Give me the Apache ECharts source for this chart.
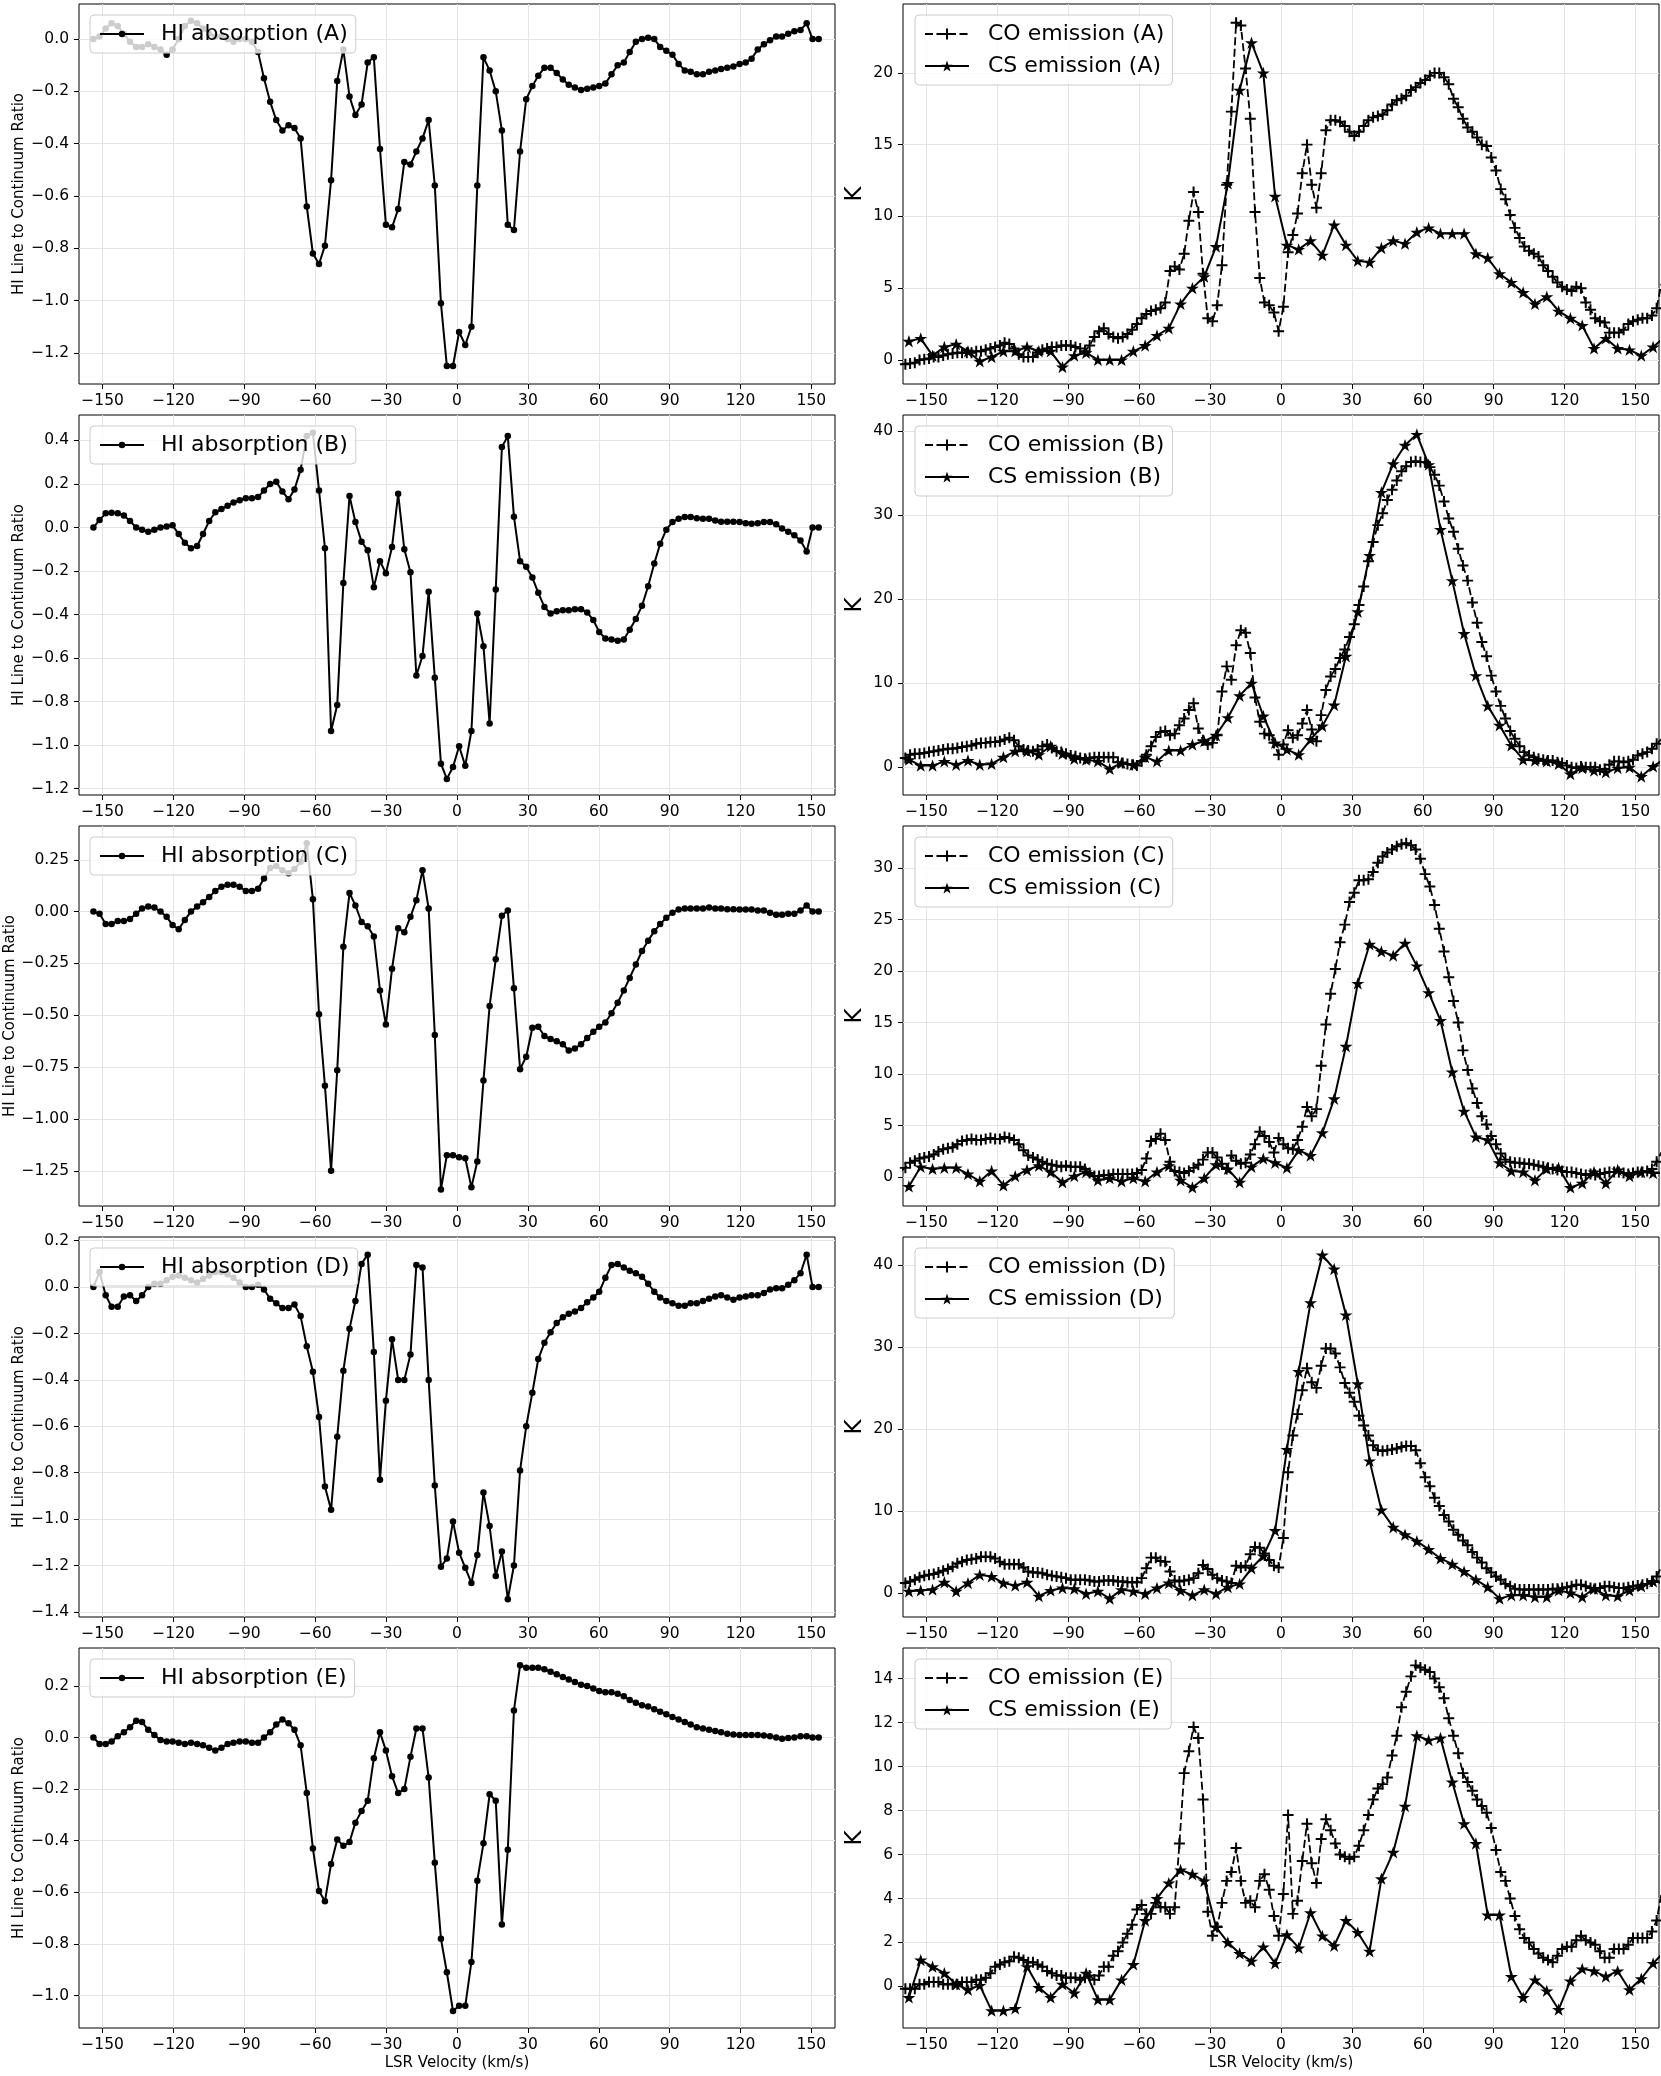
<!DOCTYPE html>
<html>
<head>
<meta charset="utf-8">
<script src="https://cdn.jsdelivr.net/npm/echarts@6/dist/echarts.min.js"></script>
<style>
  html, body { margin: 0; padding: 0; background: #fff; }
  #chart { width: 1661px; height: 2076px; }
</style>
</head>
<body>
<div id="chart"></div>
<script>
// velocity channels (km/s)
const hiVel = [
  -153.9,-151.3,-148.7,-146.2,-143.6,-141.0,-138.4,-135.8,-133.3,-130.7,
  -128.1,-125.5,-122.9,-120.4,-117.8,-115.2,-112.6,-110.0,-107.5,-104.9,
  -102.3,-99.7,-97.1,-94.6,-92.0,-89.4,-86.8,-84.2,-81.7,-79.1,
  -76.5,-73.9,-71.3,-68.8,-66.2,-63.6,-61.0,-58.4,-55.9,-53.3,
  -50.7,-48.1,-45.5,-43.0,-40.4,-37.8,-35.2,-32.6,-30.1,-27.5,
  -24.9,-22.3,-19.7,-17.2,-14.6,-12.0,-9.4,-6.8,-4.3,-1.7,
  0.9,3.5,6.1,8.6,11.2,13.8,16.4,19.0,21.5,24.1,
  26.7,29.3,31.9,34.4,37.0,39.6,42.2,44.8,47.3,49.9,
  52.5,55.1,57.7,60.2,62.8,65.4,68.0,70.6,73.1,75.7,
  78.3,80.9,83.5,86.0,88.6,91.2,93.8,96.4,98.9,101.5,
  104.1,106.7,109.3,111.8,114.4,117.0,119.6,122.2,124.7,127.3,
  129.9,132.5,135.1,137.6,140.2,142.8,145.4,148.0,150.5,153.1
];
const coVel = [
  -161,-159,-157,-155,-153,-151,-149,-147,-145,-143,
  -141,-139,-137,-135,-133,-131,-129,-127,-125,-123,
  -121,-119,-117,-115,-113,-111,-109,-107,-105,-103,
  -101,-99,-97,-95,-93,-91,-89,-87,-85,-83,
  -81,-79,-77,-75,-73,-71,-69,-67,-65,-63,
  -61,-59,-57,-55,-53,-51,-49,-47,-45,-43,
  -41,-39,-37,-35,-33,-31,-29,-27,-25,-23,
  -21,-19,-17,-15,-13,-11,-9,-7,-5,-3,
  -1,1,3,5,7,9,11,13,15,17,
  19,21,23,25,27,29,31,33,35,37,
  39,41,43,45,47,49,51,53,55,57,
  59,61,63,65,67,69,71,73,75,77,
  79,81,83,85,87,89,91,93,95,97,
  99,101,103,105,107,109,111,113,115,117,
  119,121,123,125,127,129,131,133,135,137,
  139,141,143,145,147,149,151,153,155,157,
  159,161
];
const csVel = [
  -157.5,-152.5,-147.5,-142.5,-137.5,-132.5,-127.5,-122.5,-117.5,-112.5,
  -107.5,-102.5,-97.5,-92.5,-87.5,-82.5,-77.5,-72.5,-67.5,-62.5,
  -57.5,-52.5,-47.5,-42.5,-37.5,-32.5,-27.5,-22.5,-17.5,-12.5,
  -7.5,-2.5,2.5,7.5,12.5,17.5,22.5,27.5,32.5,37.5,
  42.5,47.5,52.5,57.5,62.5,67.5,72.5,77.5,82.5,87.5,
  92.5,97.5,102.5,107.5,112.5,117.5,122.5,127.5,132.5,137.5,
  142.5,147.5,152.5,157.5,162.5
];

// HI line to continuum ratio
const hiA = [
  0.0,0.01,0.04,0.06,0.05,0.02,-0.01,-0.03,-0.03,-0.02,
  -0.03,-0.04,-0.06,-0.04,0.0,0.05,0.07,0.06,0.04,0.02,
  0.01,0.01,0.0,-0.01,0.0,0.0,-0.01,-0.05,-0.15,-0.24,
  -0.31,-0.35,-0.33,-0.34,-0.38,-0.64,-0.82,-0.86,-0.79,-0.54,
  -0.16,-0.04,-0.22,-0.29,-0.25,-0.09,-0.07,-0.42,-0.71,-0.72,
  -0.65,-0.47,-0.48,-0.43,-0.38,-0.31,-0.56,-1.01,-1.25,-1.25,
  -1.12,-1.17,-1.10,-0.56,-0.07,-0.12,-0.20,-0.35,-0.71,-0.73,
  -0.43,-0.23,-0.18,-0.14,-0.11,-0.11,-0.13,-0.155,-0.175,-0.185,
  -0.195,-0.19,-0.185,-0.18,-0.17,-0.135,-0.10,-0.09,-0.05,-0.01,
  0.0,0.005,0.0,-0.03,-0.045,-0.06,-0.095,-0.12,-0.125,-0.135,
  -0.135,-0.125,-0.12,-0.115,-0.11,-0.105,-0.095,-0.09,-0.075,-0.04,
  -0.02,-0.005,0.01,0.01,0.02,0.03,0.035,0.06,0.0,0.0
];
const hiB = [
  0.0,0.035,0.065,0.068,0.065,0.055,0.03,0.0,-0.01,-0.02,
  -0.01,0.0,0.005,0.01,-0.03,-0.07,-0.095,-0.085,-0.03,0.03,
  0.07,0.085,0.1,0.115,0.125,0.135,0.135,0.14,0.17,0.20,
  0.21,0.165,0.13,0.175,0.265,0.42,0.435,0.17,-0.095,-0.935,
  -0.815,-0.255,0.145,0.025,-0.065,-0.105,-0.275,-0.155,-0.21,-0.09,
  0.155,-0.10,-0.205,-0.68,-0.59,-0.295,-0.69,-1.085,-1.155,-1.10,
  -1.005,-1.095,-0.935,-0.395,-0.545,-0.90,-0.285,0.37,0.42,0.05,
  -0.155,-0.18,-0.23,-0.30,-0.365,-0.395,-0.385,-0.38,-0.38,-0.375,
  -0.375,-0.39,-0.425,-0.48,-0.51,-0.515,-0.52,-0.515,-0.47,-0.42,
  -0.36,-0.27,-0.165,-0.075,-0.01,0.025,0.04,0.048,0.048,0.043,
  0.04,0.04,0.032,0.027,0.027,0.027,0.025,0.02,0.017,0.02,
  0.025,0.025,0.015,-0.005,-0.02,-0.035,-0.06,-0.11,0.0,0.0
];
const hiC = [
  0.0,-0.01,-0.06,-0.06,-0.045,-0.045,-0.035,-0.01,0.015,0.025,
  0.02,0.0,-0.025,-0.065,-0.085,-0.04,0.0,0.025,0.045,0.07,
  0.10,0.12,0.13,0.13,0.12,0.10,0.10,0.11,0.16,0.21,
  0.22,0.20,0.185,0.205,0.24,0.33,0.06,-0.495,-0.84,-1.25,
  -0.765,-0.17,0.09,0.03,-0.05,-0.07,-0.12,-0.38,-0.545,-0.275,
  -0.08,-0.10,-0.025,0.055,0.20,0.015,-0.595,-1.34,-1.175,-1.175,
  -1.185,-1.19,-1.33,-1.205,-0.815,-0.455,-0.23,-0.02,0.005,-0.37,
  -0.76,-0.70,-0.56,-0.555,-0.60,-0.615,-0.625,-0.64,-0.67,-0.66,
  -0.64,-0.61,-0.58,-0.555,-0.535,-0.49,-0.44,-0.38,-0.32,-0.255,
  -0.19,-0.14,-0.095,-0.06,-0.03,-0.005,0.01,0.015,0.015,0.015,
  0.015,0.02,0.015,0.015,0.012,0.012,0.01,0.01,0.01,0.005,
  0.005,-0.005,-0.015,-0.015,-0.01,-0.01,0.005,0.03,0.0,0.0
];
const hiD = [
  0.0,0.065,-0.035,-0.085,-0.085,-0.04,-0.035,-0.06,-0.035,0.0,
  0.015,0.015,0.03,0.045,0.05,0.04,0.03,0.02,0.035,0.05,
  0.065,0.065,0.055,0.04,0.02,0.0,0.0,0.01,-0.01,-0.05,
  -0.07,-0.09,-0.09,-0.075,-0.125,-0.255,-0.365,-0.56,-0.86,-0.96,
  -0.645,-0.36,-0.18,-0.06,0.10,0.14,-0.28,-0.83,-0.49,-0.225,
  -0.40,-0.40,-0.29,0.095,0.085,-0.40,-0.855,-1.205,-1.17,-1.01,
  -1.145,-1.21,-1.275,-1.155,-0.885,-1.03,-1.245,-1.14,-1.345,-1.20,
  -0.79,-0.60,-0.455,-0.31,-0.24,-0.195,-0.155,-0.13,-0.115,-0.105,
  -0.09,-0.065,-0.045,-0.02,0.04,0.095,0.10,0.085,0.07,0.06,
  0.045,0.015,-0.02,-0.045,-0.06,-0.07,-0.08,-0.08,-0.07,-0.07,
  -0.06,-0.05,-0.04,-0.035,-0.045,-0.055,-0.045,-0.04,-0.035,-0.035,
  -0.025,-0.01,-0.005,-0.005,0.01,0.03,0.06,0.14,0.0,0.0
];
const hiE = [
  0.0,-0.025,-0.025,-0.015,0.005,0.02,0.04,0.065,0.06,0.03,
  0.01,-0.01,-0.015,-0.015,-0.02,-0.025,-0.02,-0.025,-0.03,-0.04,
  -0.05,-0.04,-0.025,-0.02,-0.015,-0.015,-0.02,-0.02,0.0,0.02,
  0.05,0.07,0.055,0.03,-0.03,-0.215,-0.43,-0.595,-0.635,-0.49,
  -0.395,-0.42,-0.405,-0.33,-0.285,-0.245,-0.08,0.02,-0.05,-0.15,
  -0.215,-0.20,-0.075,0.035,0.035,-0.155,-0.485,-0.78,-0.91,-1.06,
  -1.04,-1.04,-0.87,-0.555,-0.41,-0.22,-0.245,-0.725,-0.435,0.105,
  0.28,0.27,0.27,0.27,0.265,0.255,0.245,0.235,0.225,0.215,
  0.205,0.20,0.19,0.18,0.175,0.175,0.17,0.16,0.145,0.135,
  0.125,0.12,0.11,0.10,0.09,0.08,0.07,0.06,0.05,0.04,
  0.035,0.03,0.025,0.02,0.015,0.012,0.01,0.01,0.01,0.01,
  0.008,0.005,0.0,-0.005,-0.002,0.0,0.005,0.005,0.0,0.0
];

// CO emission (K)
const coA = [
  -0.3,-0.3,-0.25,-0.2,0.0,0.05,0.1,0.2,0.2,0.3,
  0.4,0.45,0.5,0.5,0.5,0.5,0.6,0.6,0.7,0.8,
  0.9,1.0,1.2,1.1,0.8,0.4,0.2,0.2,0.2,0.5,
  0.7,0.8,0.9,0.9,1.0,1.0,1.0,0.9,0.8,0.6,
  1.0,1.6,2.0,2.2,1.8,1.6,1.5,1.6,1.8,2.1,
  2.5,2.9,3.2,3.4,3.5,3.6,4.0,6.2,6.5,6.3,
  7.4,9.7,11.7,10.3,6.0,2.9,2.7,3.8,6.6,12.2,
  17.3,23.5,23.3,20.3,16.8,10.3,5.7,4.0,3.8,3.3,
  2.0,3.7,7.5,8.7,10.2,13.0,15.0,12.2,10.6,13.0,
  16.0,16.7,16.7,16.6,16.3,15.9,15.6,15.9,16.3,16.7,
  16.9,17.0,17.1,17.4,17.8,18.1,18.2,18.4,18.8,19.0,
  19.3,19.5,19.8,20.0,20.0,19.7,19.2,18.2,17.6,16.8,
  16.2,15.9,15.5,15.0,14.9,14.1,13.2,11.9,11.2,10.1,
  9.2,8.5,7.9,7.6,7.4,7.2,6.6,6.2,5.8,5.4,
  5.1,4.9,4.8,5.1,5.0,4.0,3.5,2.9,2.7,2.6,
  1.9,1.9,1.9,2.1,2.5,2.7,2.8,2.9,2.9,3.1,
  3.6,5.3
];
const coB = [
  1.0,1.1,1.5,1.6,1.6,1.7,1.8,1.9,2.0,2.1,
  2.2,2.2,2.3,2.4,2.5,2.6,2.8,2.9,2.9,3.0,
  3.0,3.1,3.3,3.5,3.2,2.5,2.1,2.0,1.9,2.1,
  2.5,2.7,2.3,1.9,1.8,1.6,1.4,1.3,1.1,1.0,
  1.1,1.2,1.2,1.2,1.2,1.2,0.6,0.5,0.4,0.3,
  0.2,0.7,1.5,2.5,3.6,4.2,4.3,3.8,4.0,5.0,
  5.8,6.8,7.6,4.6,3.2,2.7,2.9,3.8,9.0,12.0,
  10.4,14.5,16.3,16.0,13.6,8.3,5.4,4.0,3.8,2.9,
  1.5,2.7,4.4,3.5,3.8,5.2,6.8,4.5,3.1,6.2,
  9.2,10.8,11.7,13.0,14.0,15.5,17.0,19.3,21.5,24.5,
  26.8,28.8,30.2,31.8,33.0,34.1,35.2,35.8,36.3,36.4,
  36.3,36.3,35.7,34.8,33.5,31.6,29.6,28.0,26.0,24.0,
  22.2,19.6,17.2,14.9,13.2,10.9,9.0,7.3,5.8,4.3,
  3.4,2.5,1.8,1.4,1.2,1.0,0.9,0.8,0.8,0.6,
  0.5,0.2,0.0,-0.1,0.1,0.0,0.0,0.0,-0.3,-0.2,
  0.3,0.7,0.7,0.6,0.7,0.9,1.4,1.6,1.8,2.2,
  2.8,3.3
];
const coC = [
  0.6,0.9,1.4,1.6,1.8,1.9,2.0,2.2,2.5,2.7,
  2.8,2.9,3.2,3.5,3.6,3.7,3.6,3.6,3.7,3.8,
  3.7,3.7,3.9,3.8,3.6,3.2,2.6,2.1,1.9,1.7,
  1.5,1.3,1.2,1.1,1.0,1.1,1.0,1.0,1.0,0.8,
  0.4,0.1,0.1,0.2,0.2,0.3,0.3,0.3,0.3,0.3,
  0.4,0.7,1.8,3.5,3.7,4.2,3.6,1.5,0.6,0.5,
  0.4,0.6,0.9,1.2,1.7,2.4,2.4,1.9,1.3,0.8,
  2.1,1.6,1.3,1.4,2.2,3.2,4.4,4.0,3.4,2.4,
  3.8,3.2,2.8,2.7,3.6,4.9,6.8,5.9,6.6,10.8,
  14.8,17.8,20.2,22.8,24.5,26.7,27.6,28.8,28.8,28.9,
  29.6,30.5,31.1,31.5,31.8,32.1,32.3,32.4,32.2,31.8,
  30.9,29.4,28.2,26.4,24.1,21.9,19.4,17.1,15.0,12.3,
  10.4,8.6,7.2,5.9,5.1,4.0,3.2,2.3,1.7,1.5,
  1.4,1.4,1.3,1.3,1.2,1.1,1.0,0.9,0.8,0.7,
  0.6,0.5,0.5,0.4,0.3,0.2,0.3,0.2,0.3,0.4,
  0.5,0.5,0.5,0.4,0.3,0.4,0.5,0.5,0.6,0.8,
  1.5,2.4
];
const coD = [
  1.1,1.2,1.4,1.6,1.9,2.1,2.2,2.3,2.5,2.7,
  2.9,3.2,3.6,3.8,4.0,4.1,4.2,4.4,4.4,4.4,
  4.2,3.8,3.5,3.5,3.5,3.5,3.1,2.6,2.5,2.5,
  2.4,2.2,2.1,2.0,1.9,1.8,1.6,1.6,1.6,1.6,
  1.5,1.4,1.4,1.5,1.5,1.5,1.4,1.4,1.3,1.3,
  1.3,1.8,3.0,4.3,4.3,3.9,3.8,2.6,1.5,1.4,
  1.5,1.6,1.8,2.4,3.4,2.9,2.2,1.8,1.5,1.4,
  1.2,3.3,3.1,3.3,4.7,5.6,5.5,4.8,4.0,3.3,
  3.1,6.7,14.7,19.2,21.8,24.7,27.4,25.7,25.0,27.7,
  29.8,29.8,29.2,27.5,25.6,24.4,23.3,21.6,20.4,19.2,
  18.0,17.4,17.3,17.4,17.5,17.6,17.8,17.9,17.9,17.4,
  15.8,14.1,13.0,11.6,10.6,9.5,8.7,7.7,7.1,6.4,
  5.8,5.0,4.3,3.7,3.0,2.5,2.0,1.6,1.1,0.8,
  0.5,0.4,0.4,0.4,0.4,0.4,0.4,0.4,0.5,0.5,
  0.6,0.7,0.8,1.0,1.0,0.8,0.6,0.5,0.6,0.8,
  0.8,0.7,0.6,0.6,0.7,0.8,0.9,1.0,1.1,1.4,
  2.0,3.2
];
const coE = [
  -0.1,-0.1,-0.1,-0.1,0.1,0.1,0.2,0.2,0.2,0.1,
  0.1,0.1,0.1,0.2,0.2,0.2,0.3,0.3,0.4,0.6,
  0.9,1.0,1.1,1.15,1.35,1.3,1.2,1.1,1.1,1.0,
  0.9,0.7,0.6,0.5,0.5,0.4,0.4,0.4,0.3,0.4,
  0.5,0.3,0.5,0.9,0.9,1.4,1.6,2.0,2.4,2.8,
  3.5,3.7,3.3,3.3,3.8,3.6,3.6,3.3,3.6,6.5,
  9.7,10.7,11.8,11.3,8.5,3.4,2.3,2.7,3.8,4.8,
  5.2,6.3,4.8,3.8,3.9,3.6,4.8,5.1,4.4,3.2,
  2.3,4.2,7.8,3.3,3.9,5.7,7.4,5.6,4.7,6.7,
  7.6,7.1,6.5,6.0,5.9,5.8,5.9,6.4,7.1,7.8,
  8.5,9.0,9.2,9.5,10.5,11.4,12.7,13.4,14.1,14.6,
  14.5,14.4,14.3,14.0,13.6,13.1,12.2,11.4,10.6,9.7,
  9.3,8.9,8.5,8.2,7.9,7.2,6.2,5.2,4.8,4.0,
  3.2,2.6,2.2,2.0,1.7,1.5,1.3,1.2,1.1,1.4,
  1.7,1.8,1.8,2.1,2.3,2.1,2.0,1.9,1.6,1.3,
  1.3,1.7,1.7,1.7,1.9,2.2,2.2,2.2,2.2,2.5,
  3.0,4.2
];

// CS emission (K)
const csA = [
  1.3,1.5,0.3,0.9,1.1,0.6,-0.1,0.2,0.6,0.6,
  0.9,0.6,0.6,-0.5,0.3,0.5,0.0,0.0,0.0,0.6,
  1.0,1.7,2.2,3.9,5.0,5.8,7.9,12.3,18.8,22.1,
  20.0,11.4,8.0,7.7,8.3,7.3,9.4,8.0,6.9,6.8,
  7.8,8.3,8.1,8.9,9.2,8.8,8.8,8.8,7.4,7.1,
  6.0,5.4,4.7,3.9,4.4,3.4,2.9,2.4,0.8,1.5,
  0.8,0.7,0.3,0.9,1.6
];
const csB = [
  0.9,0.2,0.2,0.7,0.3,0.8,0.3,0.4,1.2,1.9,
  1.9,1.5,2.5,1.6,1.0,0.9,0.7,-0.2,0.5,0.3,
  1.2,0.7,2.0,2.0,2.7,3.1,3.8,5.9,8.5,10.0,
  6.1,2.9,2.1,1.5,3.3,4.9,7.4,13.2,18.5,25.2,
  32.7,36.1,38.3,39.6,36.0,28.3,22.2,15.9,10.9,7.3,
  5.0,2.6,0.9,0.8,0.7,0.4,-0.8,-0.1,-0.4,-0.6,
  -0.1,0.0,-1.1,0.1,1.0
];
const csC = [
  -0.9,1.0,0.8,0.9,0.9,0.3,-0.4,0.6,-0.8,0.1,
  0.7,1.1,0.5,-0.5,0.1,0.5,-0.3,-0.1,-0.4,-0.1,
  -0.4,0.5,1.1,-0.3,-1.0,-0.1,1.2,0.8,-0.5,1.0,
  1.8,1.4,0.9,2.6,2.1,4.3,7.6,12.7,18.8,22.6,
  21.9,21.5,22.7,20.5,17.9,15.2,10.2,6.4,3.9,3.6,
  1.4,0.6,0.5,-0.3,0.8,0.9,-1.0,-0.6,0.5,-0.6,
  0.7,0.1,0.5,0.4,0.4
];
const csD = [
  0.2,0.3,0.4,1.3,0.2,1.2,2.2,2.0,1.2,0.9,
  1.3,-0.4,0.3,0.6,0.5,-0.1,0.2,-0.7,0.4,0.2,
  -0.1,0.6,1.2,0.3,-0.3,0.4,-0.1,0.7,1.1,3.0,
  4.5,7.6,17.5,27.0,35.4,41.2,39.5,33.9,25.5,16.1,
  10.1,8.0,7.1,6.3,5.3,4.2,3.5,2.6,1.6,0.7,
  -0.7,-0.3,-0.3,-0.5,-0.5,0.3,0.0,-0.5,0.5,-0.3,
  -0.4,0.3,0.8,1.4,1.2
];
const csE = [
  -0.5,1.2,0.9,0.6,0.1,-0.15,0.05,-1.1,-1.1,-1.0,
  0.9,-0.05,-0.5,0.1,-0.3,0.6,-0.6,-0.6,0.3,1.0,
  3.0,4.0,4.7,5.3,5.1,4.8,2.7,2.0,1.5,1.15,
  1.8,1.05,2.35,1.75,3.35,2.3,1.85,3.0,2.45,1.6,
  4.9,6.1,8.2,11.4,11.2,11.3,9.3,7.4,6.5,3.25,
  3.25,0.45,-0.5,0.3,-0.2,-1.05,0.25,0.8,0.7,0.45,
  0.7,-0.15,0.35,1.05,1.6
];

// tick labels
const velTicks = [-150, -120, -90, -60, -30, 0, 30, 60, 90, 120, 150];
const hiTicksA = [-1.2, -1.0, -0.8, -0.6, -0.4, -0.2, 0.0];
const hiTicksB = [-1.2, -1.0, -0.8, -0.6, -0.4, -0.2, 0.0, 0.2, 0.4];
const hiTicksC = [-1.25, -1.0, -0.75, -0.5, -0.25, 0.0, 0.25];
const hiTicksD = [-1.4, -1.2, -1.0, -0.8, -0.6, -0.4, -0.2, 0.0, 0.2];
const hiTicksE = [-1.0, -0.8, -0.6, -0.4, -0.2, 0.0, 0.2];
const kTicksA = [0, 5, 10, 15, 20];
const kTicksB = [0, 10, 20, 30, 40];
const kTicksC = [0, 5, 10, 15, 20, 25, 30];
const kTicksD = [0, 10, 20, 30, 40];
const kTicksE = [0, 2, 4, 6, 8, 10, 12, 14];

const letters = ['A', 'B', 'C', 'D', 'E'];
const hiSets = [hiA, hiB, hiC, hiD, hiE];
const coSets = [coA, coB, coC, coD, coE];
const csSets = [csA, csB, csC, csD, csE];
const hiTicks = [hiTicksA, hiTicksB, hiTicksC, hiTicksD, hiTicksE];
const kTicks = [kTicksA, kTicksB, kTicksC, kTicksD, kTicksE];
const hiDigits = [1, 1, 2, 1, 1];
const hiLim = [[-1.319, 0.134], [-1.229, 0.517], [-1.42, 0.413], [-1.422, 0.216], [-1.126, 0.347]];
const kLim = [[-1.68, 24.8], [-3.3, 41.9], [-2.8, 34.07], [-2.94, 43.4], [-1.89, 15.39]];

const FONT = 'DejaVu Sans';
const rowTops = [4, 415, 826, 1237, 1648];
const rowH = 380;
const PLUS = 'path://M4.1,0H5.9V4.1H10V5.9H5.9V10H4.1V5.9H0V4.1H4.1Z';
const STAR = 'path://M50,0L61.8,35.5L99,35.5L69,57.5L80.5,93L50,71L19.5,93L31,57.5L1,35.5L38.2,35.5Z';

function fmt(d) {
  return function (v) {
    const s = Math.abs(v).toFixed(d);
    return (v < 0 && Number(s) !== 0 ? '\u2212' : '') + s;
  };
}
function pairs(xs, ys) {
  return ys.map((y, i) => [xs[i], y]);
}

const grids = [], xAxes = [], yAxes = [], series = [], legends = [];

for (let i = 0; i < 5; i++) {
  const top = rowTops[i];
  const L = letters[i];
  [79, 903].forEach(function (left, side) {
    const gi = i * 2 + side;
    grids.push({
      left: left, top: top, width: 756, height: rowH,
      show: true, borderColor: '#000', borderWidth: 1, backgroundColor: 'transparent'
    });
    xAxes.push({
      type: 'value', gridIndex: gi, min: -160, max: 160,
      axisLine: { show: false, onZero: false },
      axisTick: { show: true, inside: false, length: 5, customValues: velTicks,
                  lineStyle: { color: '#000', width: 1 } },
      axisLabel: { customValues: velTicks, formatter: fmt(0), color: '#000',
                   fontSize: 15.5, fontFamily: FONT, margin: 9 },
      splitLine: { show: true, lineStyle: { color: '#e4e4e4', width: 1 } },
      name: i === 4 ? 'LSR Velocity (km/s)' : '',
      nameLocation: 'middle', nameGap: 28,
      nameTextStyle: { fontSize: 15, fontFamily: FONT, color: '#000' }
    });
    const ticks = side === 0 ? hiTicks[i] : kTicks[i];
    const lim = side === 0 ? hiLim[i] : kLim[i];
    yAxes.push({
      type: 'value', gridIndex: gi, min: lim[0], max: lim[1],
      axisLine: { show: false, onZero: false },
      axisTick: { show: true, inside: false, length: 5, customValues: ticks,
                  lineStyle: { color: '#000', width: 1 } },
      axisLabel: { customValues: ticks, formatter: fmt(side === 0 ? hiDigits[i] : 0),
                   color: '#000', fontSize: 15.5, fontFamily: FONT, margin: 10 },
      splitLine: { show: true, lineStyle: { color: '#e4e4e4', width: 1 } },
      name: side === 0 ? 'HI Line to Continuum Ratio' : 'K',
      nameLocation: 'middle', nameGap: side === 0 ? 52 : 36,
      nameTextStyle: { fontSize: side === 0 ? 15 : 23, fontFamily: FONT, color: '#000' }
    });
  });

  series.push({
    type: 'line', name: 'HI absorption (' + L + ')',
    xAxisIndex: i * 2, yAxisIndex: i * 2,
    data: pairs(hiVel, hiSets[i]),
    symbol: 'circle', symbolSize: 6.5, showAllSymbol: true,
    lineStyle: { color: '#000', width: 2 }, itemStyle: { color: '#000' },
    clip: true, animation: false
  });
  series.push({
    type: 'line', name: 'CO emission (' + L + ')',
    xAxisIndex: i * 2 + 1, yAxisIndex: i * 2 + 1,
    data: pairs(coVel, coSets[i]),
    symbol: PLUS, symbolSize: 11, showAllSymbol: true,
    lineStyle: { color: '#000', width: 1.8, type: [8, 3.5] }, itemStyle: { color: '#000' },
    clip: true, animation: false
  });
  series.push({
    type: 'line', name: 'CS emission (' + L + ')',
    xAxisIndex: i * 2 + 1, yAxisIndex: i * 2 + 1,
    data: pairs(csVel, csSets[i]),
    symbol: STAR, symbolSize: 13, symbolKeepAspect: true, showAllSymbol: true,
    lineStyle: { color: '#000', width: 2 }, itemStyle: { color: '#000' },
    clip: true, animation: false
  });

  const legendBase = {
    orient: 'vertical', itemWidth: 44, itemGap: 8, selectedMode: false,
    backgroundColor: 'rgba(255,255,255,0.8)', borderColor: '#cccccc',
    borderWidth: 1, borderRadius: 4, padding: [7, 8, 7, 9]
  };
  legends.push(Object.assign({}, legendBase, {
    data: ['HI absorption (' + L + ')'],
    left: 90, top: top + 11, itemHeight: 8,
    textStyle: { fontSize: 22, fontFamily: FONT, color: '#000', lineHeight: 24, padding: [0, 0, 0, 12] }
  }));
  legends.push(Object.assign({}, legendBase, {
    data: ['CO emission (' + L + ')', 'CS emission (' + L + ')'],
    left: 915, top: top + 11, itemHeight: 14,
    textStyle: { fontSize: 22, fontFamily: FONT, color: '#000', lineHeight: 24, padding: [0, 0, 0, 14] }
  }));
}

const chart = echarts.init(document.getElementById('chart'), null, { renderer: 'canvas' });
chart.setOption({
  backgroundColor: '#fff',
  animation: false,
  grid: grids,
  xAxis: xAxes,
  yAxis: yAxes,
  legend: legends,
  series: series
});
</script>
</body>
</html>
